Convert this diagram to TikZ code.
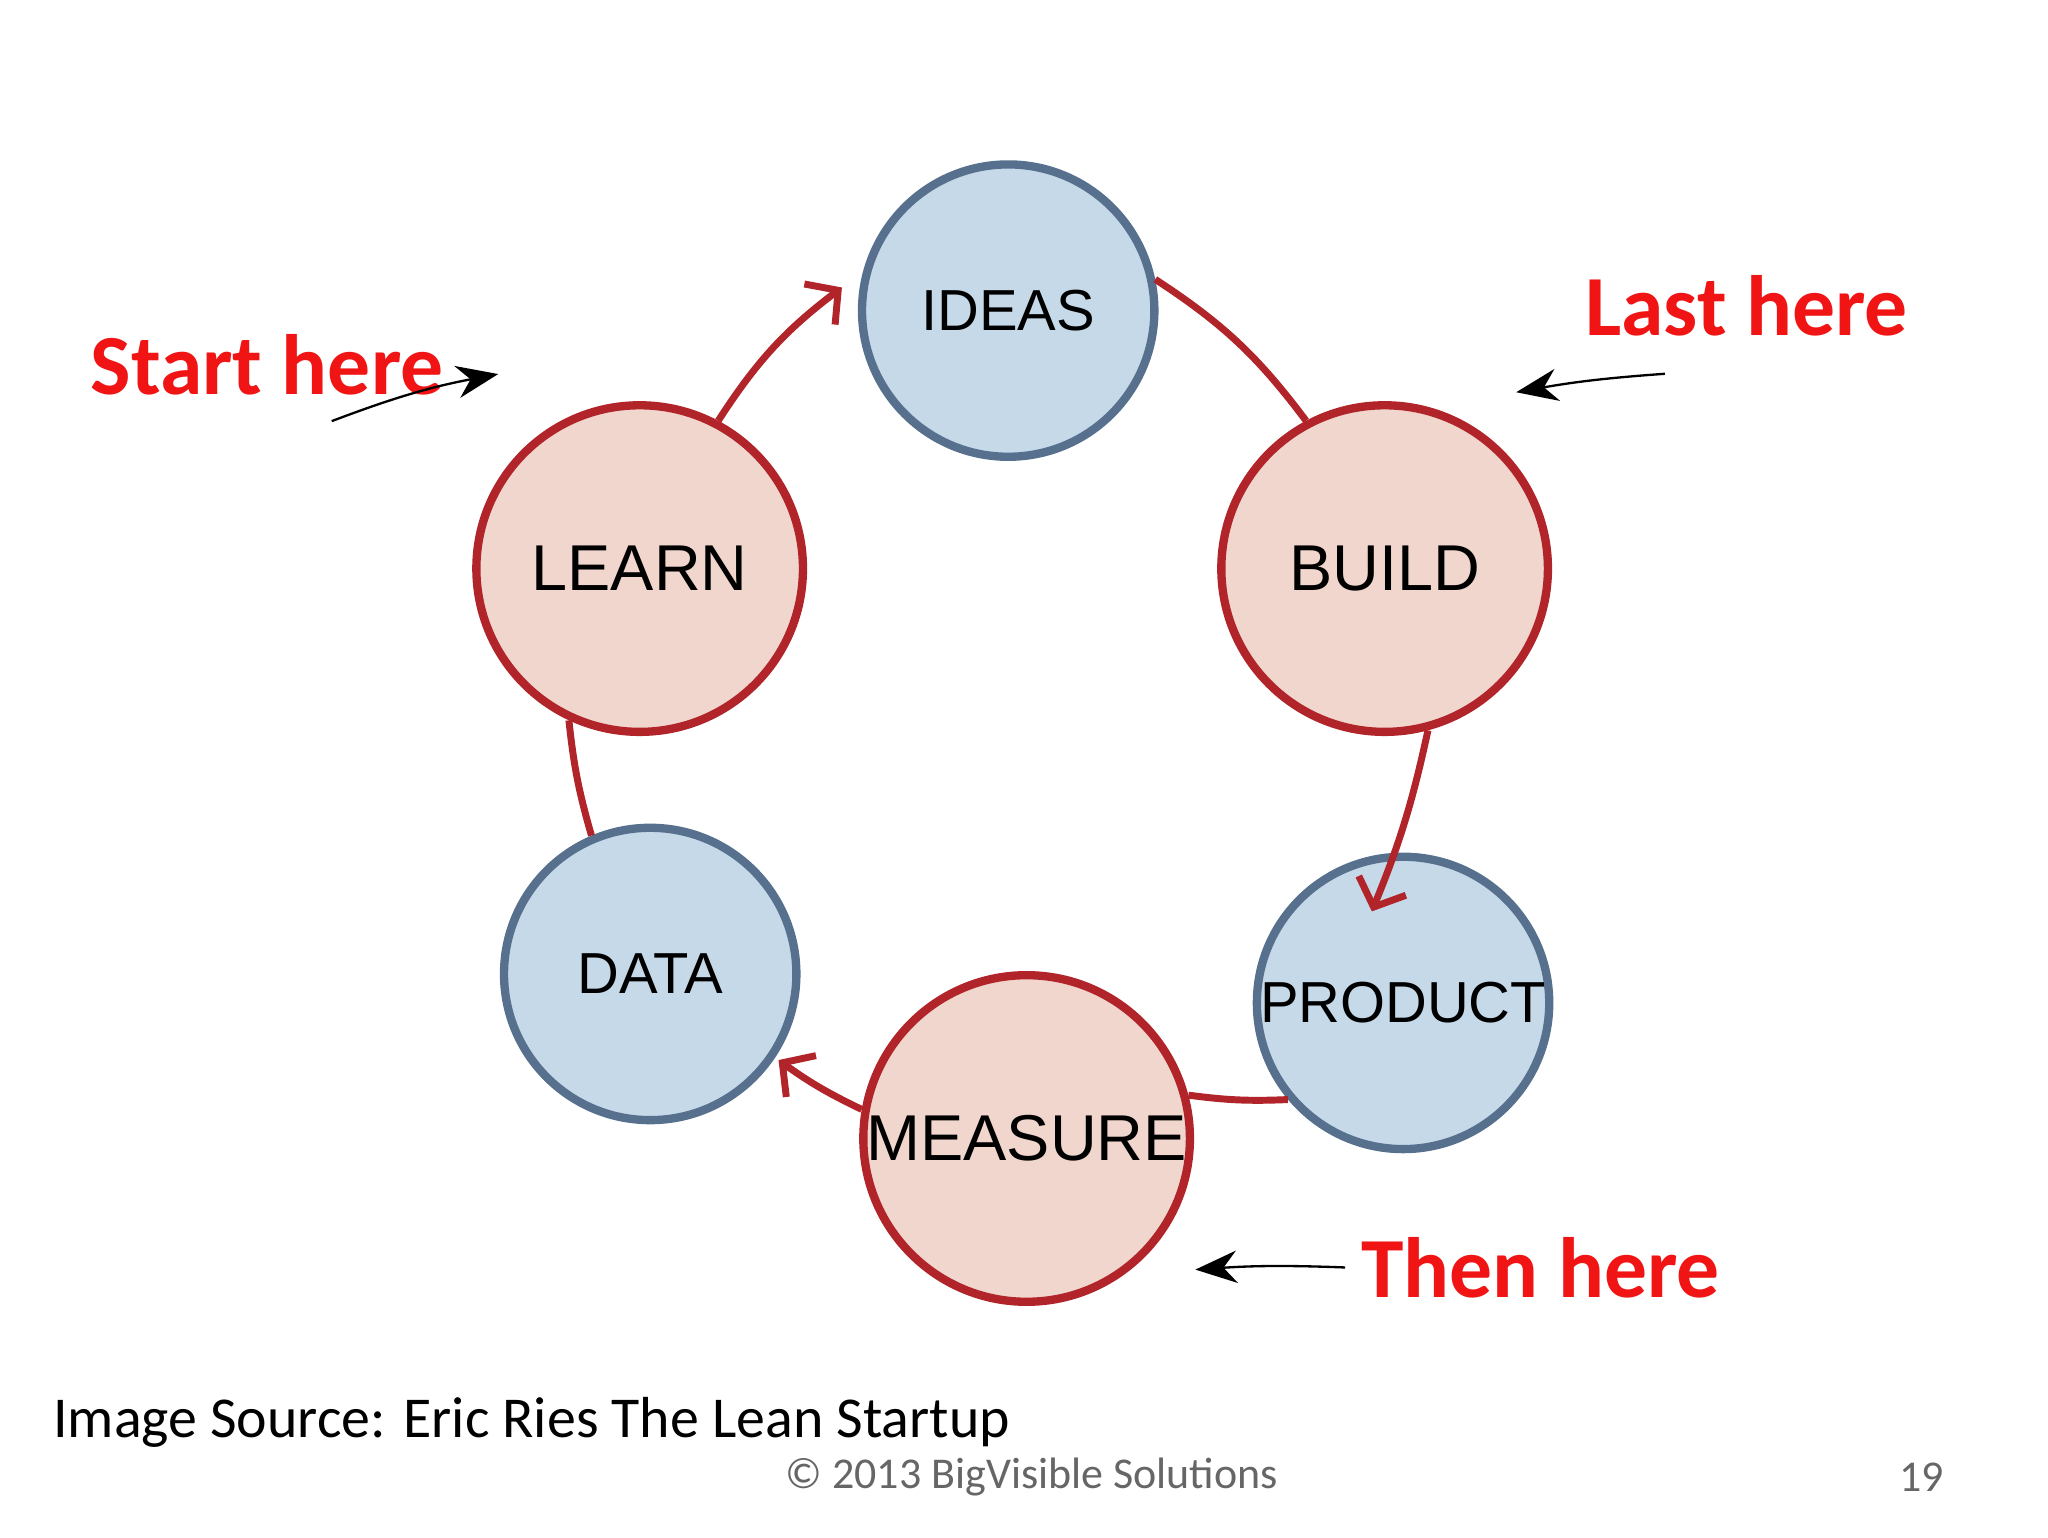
\documentclass[tikz,border=0pt]{standalone}
\usepackage{fontspec}
\setmainfont{Carlito}
\newfontfamily\circfont{Liberation Sans}
\usetikzlibrary{arrows.meta}
\definecolor{bfill}{HTML}{C6D9E8}
\definecolor{bdraw}{HTML}{56708E}
\definecolor{pfill}{HTML}{F1D6CD}
\definecolor{pdraw}{HTML}{B0242A}
\definecolor{lab}{HTML}{F01414}
\begin{document}
\begin{tikzpicture}[x=0.01cm,y=-0.01cm,
 bluec/.style={circle,fill=bfill,draw=bdraw,line width=1.8pt,inner sep=0pt,minimum size=2.22cm,font=\circfont\fontsize{12.5}{14}\selectfont},
 pinkc/.style={circle,fill=pfill,draw=pdraw,line width=1.8pt,inner sep=0pt,minimum size=2.48cm,font=\circfont\fontsize{14}{16}\selectfont},
 link/.style={draw=pdraw,line width=1.5pt},
 linka/.style={link,-{Straight Barb[length=5pt,width=11pt,line width=1.5pt]}},
 hint/.style={draw=black,line width=0.5pt,-{Stealth[length=9pt,width=7pt]}},
 lbl/.style={text=lab,font=\bfseries\fontsize{18.5}{22}\selectfont}]
\useasboundingbox (0,0) rectangle (1556,1168);
\node[bluec] (ideas) at (766,236) {IDEAS};
\node[pinkc] (learn) at (486,432) {LEARN};
\node[pinkc] (build) at (1052,432) {BUILD};
\node[bluec] (product) at (1066,762) {PRODUCT};
\node[pinkc] (measure) at (780,865) {MEASURE};
\node[bluec] (data) at (494,740) {DATA};
% cycle connectors
\draw[linka] (learn.62) to[bend left=10] ([shift={(-16,12)}]ideas.165);
\draw[link] (ideas.12) to[bend left=10] (build.118);
\draw[linka] (build.-75) to[bend left=5] ([yshift=-12]product.102);
\draw[link] (product.-140) to[bend left=5] (measure.15);
\draw[linka] (measure.170) to[bend left=5] ([shift={(10,-8)}]data.-40);
\draw[link] (data.113) to[bend left=5] (learn.-115);
% labels
\node[lbl] (start) at (203,277) {Start here};
\node[lbl] (last) at (1327,232) {Last here};
\node[lbl,anchor=west] (then) at (1022,963) {Then here};
\coordinate (s0) at (252,320);
\coordinate (l0) at (1265,284);
\draw[hint] (s0) to[bend left=5] ([shift={(-10,-66)}]learn.140);
\draw[hint] (l0) to[bend right=3] ([shift={(10,-44)}]build.45);
\draw[hint] (then.west) to[bend right=3] ([shift={(18,36)}]measure.-30);
\node[anchor=west,font=\fontsize{12.5}{14}\selectfont] (src) at (28,1081) {Image Source: Eric Ries The Lean Startup};
\node[text=black!60,font=\fontsize{9.5}{11}\selectfont] (copy) at (784,1122) {© 2013 BigVisible Solutions};
\node[text=black!60,font=\fontsize{9.5}{11}\selectfont] (pg) at (1460,1122) {19};
\end{tikzpicture}
\end{document}
